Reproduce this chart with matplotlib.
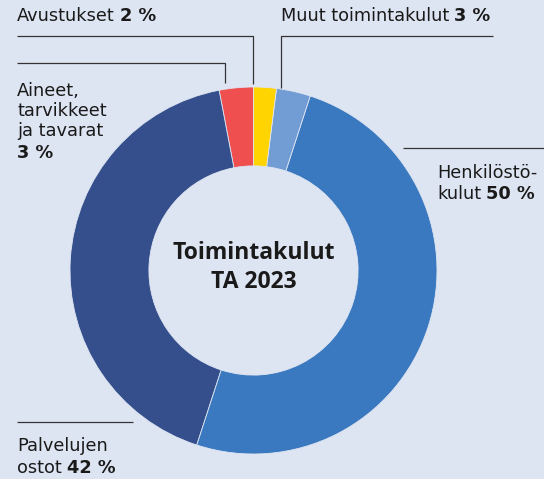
import matplotlib.pyplot as plt

# Toimintakulut TA 2023, osuudet prosentteina (vastapäivään klo 12:sta)
labels = ['Aineet, tarvikkeet ja tavarat', 'Palvelujen ostot', 'Henkilöstökulut',
          'Muut toimintakulut', 'Avustukset']
values = [3, 42, 50, 3, 2]
colors = ['#f04f4f', '#344f8b', '#3a79bf', '#729dd4', '#ffd400']

bg = '#dee5f2'
txt = '#1a1a1a'
W, H = 544, 479

plt.rcParams['font.family'] = ['DejaVu Sans']

fig = plt.figure(figsize=(W / 100, H / 100), dpi=100, facecolor=bg)
ax = fig.add_axes([0, 0, 1, 1])
ax.set_facecolor(bg)

cx, cy, r = 253.5, H - 270.5, 183.5
ax.pie(values, colors=colors, startangle=90, counterclock=True,
       center=(cx, cy), radius=r,
       wedgeprops=dict(width=r * 0.43, edgecolor=bg, linewidth=0.6))
ax.set_xlim(0, W)
ax.set_ylim(0, H)
ax.set_aspect('equal')
ax.axis('off')

# keskiteksti
ax.text(cx, cy + 3, 'Toimintakulut\nTA 2023', ha='center', va='center',
        fontsize=16.5, fontweight='bold', color=txt, linespacing=1.25,
        family='Open Sans')


def line(xs, ys):
    ax.plot(xs, [H - y for y in ys], color='#333333', lw=0.9,
            solid_capstyle='butt')


def label(x, y, normal, bold=None, size=12.8):
    t = ax.text(x, H - y, normal, ha='left', va='baseline', fontsize=size,
                color=txt, fontweight='bold' if bold is None and normal.endswith('%') else 'normal')
    if bold:
        ax.annotate(bold, xy=(1, 0), xycoords=t, xytext=(3.5, 0),
                    textcoords='offset points', ha='left', va='bottom',
                    fontsize=size, fontweight='bold', color=txt)
    return t


# johtoviivat
line([17, 253, 253], [36, 36, 84])
line([493, 281, 281], [36, 36, 88])
line([17, 225, 225], [63, 63, 83])
line([403, 544], [148, 148])
line([17, 133], [422, 422])

# selitteet
label(17, 21, 'Avustukset', '2 %')
label(281, 21, 'Muut toimintakulut', '3 %')
label(17, 96, 'Aineet,')
label(17, 116, 'tarvikkeet')
label(17, 136, 'ja tavarat')
label(17, 158, '3 %')
label(437, 178, 'Henkilöstö-')
label(437, 199, 'kulut', '50 %')
label(17, 451, 'Palvelujen')
label(17, 473, 'ostot', '42 %')

fig.savefig('out.png', dpi=100, facecolor=bg)
